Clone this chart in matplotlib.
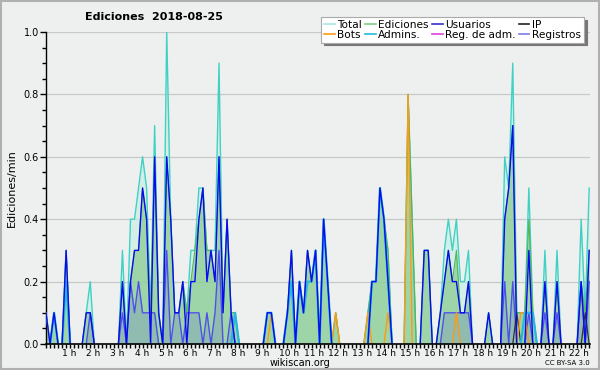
import numpy as np
import matplotlib

matplotlib.use("Agg")
import matplotlib.pyplot as plt
from matplotlib.lines import Line2D

# 10-minute samples starting at 00:20 (edits per minute)
total = [0.1, 0, 0.1, 0, 0, 0.3, 0, 0, 0, 0,
         0.1, 0.2, 0, 0, 0, 0, 0, 0, 0, 0.3,
         0, 0.4, 0.4, 0.5, 0.6, 0.5, 0.1, 0.7, 0.1, 0,
         1.0, 0.4, 0.1, 0.1, 0.2, 0.1, 0.3, 0.3, 0.5, 0.5,
         0.3, 0.3, 0.3, 0.9, 0.1, 0.4, 0.1, 0.1, 0, 0,
         0, 0, 0, 0, 0, 0.1, 0.1, 0, 0, 0,
         0.1, 0.3, 0, 0.2, 0.1, 0.3, 0.2, 0.3, 0, 0.4,
         0.2, 0, 0.1, 0, 0, 0, 0, 0, 0, 0,
         0.1, 0.2, 0.2, 0.5, 0.4, 0.3, 0, 0, 0, 0,
         0.8, 0.4, 0, 0, 0.3, 0.3, 0, 0, 0.1, 0.3,
         0.4, 0.3, 0.4, 0.2, 0.2, 0.3, 0, 0, 0, 0,
         0.1, 0, 0, 0, 0.6, 0.5, 0.9, 0.1, 0.1, 0.1,
         0.5, 0.1, 0, 0, 0.3, 0, 0, 0.3, 0, 0,
         0, 0, 0, 0.4, 0.1, 0.5]
ediciones = [0.1, 0, 0.1, 0, 0, 0.3, 0, 0, 0, 0,
             0.1, 0.1, 0, 0, 0, 0, 0, 0, 0, 0.2,
             0, 0.2, 0.3, 0.3, 0.5, 0.4, 0.1, 0.6, 0.1, 0,
             0.6, 0.4, 0.1, 0.1, 0.2, 0.1, 0.2, 0.3, 0.4, 0.5,
             0.3, 0.3, 0.2, 0.6, 0.1, 0.4, 0.1, 0.1, 0, 0,
             0, 0, 0, 0, 0, 0.1, 0.1, 0, 0, 0,
             0.1, 0.3, 0, 0.2, 0.1, 0.3, 0.2, 0.3, 0, 0.4,
             0.2, 0, 0.1, 0, 0, 0, 0, 0, 0, 0,
             0.1, 0.2, 0.2, 0.5, 0.4, 0.3, 0, 0, 0, 0,
             0.8, 0.4, 0, 0, 0.3, 0.3, 0, 0, 0.1, 0.2,
             0.3, 0.2, 0.3, 0.1, 0.1, 0.2, 0, 0, 0, 0,
             0.1, 0, 0, 0, 0.4, 0.5, 0.7, 0.1, 0.1, 0.1,
             0.4, 0.1, 0, 0, 0.2, 0, 0, 0.2, 0, 0,
             0, 0, 0, 0.2, 0.1, 0.3]
usuarios = [0.1, 0, 0.1, 0, 0, 0.3, 0, 0, 0, 0,
            0.1, 0.1, 0, 0, 0, 0, 0, 0, 0, 0.2,
            0, 0.2, 0.3, 0.3, 0.5, 0.4, 0, 0.6, 0.1, 0,
            0.6, 0.4, 0.1, 0.1, 0.2, 0, 0.2, 0.2, 0.4, 0.5,
            0.2, 0.3, 0.2, 0.6, 0.1, 0.4, 0.1, 0, 0, 0,
            0, 0, 0, 0, 0, 0.1, 0.1, 0, 0, 0,
            0.1, 0.3, 0, 0.2, 0.1, 0.3, 0.2, 0.3, 0, 0.4,
            0.2, 0, 0, 0, 0, 0, 0, 0, 0, 0,
            0, 0.2, 0.2, 0.5, 0.4, 0.2, 0, 0, 0, 0,
            0, 0, 0, 0, 0.3, 0.3, 0, 0, 0.1, 0.2,
            0.3, 0.2, 0.2, 0.1, 0.1, 0.2, 0, 0, 0, 0,
            0.1, 0, 0, 0, 0.4, 0.5, 0.7, 0, 0, 0,
            0.3, 0, 0, 0, 0.2, 0, 0, 0.2, 0, 0,
            0, 0, 0, 0.2, 0, 0.3]
ip = [0] * 117 + [0.1] + [0] * 16 + [0.1, 0]
bots = [0] * 56 + [0.1] + [0] * 15 + [0.1] + [0] * 7 + [0.1] + [0] * 4 + [0.1] + [0] * 4 \
    + [0.8] + [0] * 11 + [0.1] + [0] * 15 + [0.1, 0.1] + [0] * 16
admins = [0, 0, 0.1, 0, 0, 0.2, 0, 0, 0, 0,
          0, 0, 0, 0, 0, 0, 0, 0, 0, 0,
          0, 0, 0, 0, 0, 0, 0, 0, 0, 0,
          0, 0, 0, 0, 0, 0, 0, 0, 0, 0,
          0, 0, 0, 0, 0, 0, 0, 0.1, 0, 0,
          0, 0, 0, 0, 0, 0.1, 0.1, 0, 0, 0,
          0.1, 0.2, 0, 0.2, 0.1, 0.2, 0.2, 0.3, 0, 0.4,
          0.2, 0, 0, 0, 0, 0, 0, 0, 0, 0,
          0, 0.2, 0.2, 0.5, 0.4, 0.2, 0, 0, 0, 0,
          0, 0, 0, 0, 0, 0, 0, 0, 0, 0,
          0, 0, 0, 0, 0, 0, 0, 0, 0, 0,
          0, 0, 0, 0, 0, 0, 0, 0, 0, 0.1,
          0.1, 0.1, 0, 0, 0, 0, 0, 0, 0, 0,
          0, 0, 0, 0, 0, 0]
reg_adm = [0] * 136
registros = [0, 0, 0, 0, 0, 0, 0, 0, 0, 0,
             0, 0.1, 0, 0, 0, 0, 0, 0, 0, 0.1,
             0, 0.2, 0.1, 0.2, 0.1, 0.1, 0.1, 0.1, 0, 0,
             0.3, 0, 0.1, 0.1, 0, 0.1, 0.1, 0.1, 0.1, 0,
             0.1, 0, 0.1, 0.3, 0, 0, 0.1, 0, 0, 0,
             0, 0, 0, 0, 0, 0, 0, 0, 0, 0,
             0, 0, 0, 0, 0, 0, 0, 0, 0, 0,
             0, 0, 0, 0, 0, 0, 0, 0, 0, 0,
             0, 0, 0, 0, 0, 0, 0, 0, 0, 0,
             0, 0, 0, 0, 0, 0, 0, 0, 0, 0.1,
             0.1, 0.1, 0.1, 0.1, 0.1, 0.1, 0, 0, 0, 0,
             0, 0, 0, 0, 0.2, 0, 0.2, 0, 0, 0,
             0.1, 0, 0, 0, 0.1, 0, 0, 0.1, 0, 0,
             0, 0, 0, 0.2, 0, 0.2]
hours = list(range(1, 23))

BG = "#eef0f0"
C_TOTAL = "#3fd2c4"
C_EDIC = "#5cb85c"
C_USU = "#0a0aee"
C_IP = "#333333"
C_BOTS = "#ff9a10"
C_ADM = "#25b8dc"
C_REGADM = "#dd44dd"
C_REG = "#5050e8"

x = np.arange(len(total))


def _trim(vals):
    """Break the line wherever two consecutive samples are both zero."""
    xs, ys = [], []
    for i, v in enumerate(vals):
        if i > 0 and v == 0 and vals[i - 1] == 0:
            xs.append(np.nan)
            ys.append(np.nan)
        xs.append(i)
        ys.append(v)
    return xs, ys


fig = plt.figure(figsize=(6.0, 3.7), dpi=100, facecolor=BG)
ax = fig.add_axes([46 / 600, 1 - 344 / 370, 544 / 600, 312 / 370], facecolor=BG)

ax.fill_between(x, total, color="#c9eee5", alpha=0.7, lw=0, zorder=1)
ax.fill_between(x, ediciones, color=C_EDIC, alpha=0.45, lw=0, zorder=2)
ax.fill_between(x, registros, color="#6060d0", alpha=0.22, lw=0, zorder=3)

ax.plot(*_trim(total), color=C_TOTAL, lw=1.0, zorder=4)
ax.plot(*_trim(ediciones), color="#55b455", lw=0.8, zorder=4)
ax.plot(*_trim(registros), color=C_REG, lw=1.0, zorder=5)
ax.plot(*_trim(ip), color=C_IP, lw=0.9, zorder=5)
ax.plot(*_trim(bots), color=C_BOTS, lw=1.0, zorder=6)
ax.plot(*_trim(admins), color=C_ADM, lw=1.6, zorder=6)
ax.plot(*_trim(usuarios), color=C_USU, lw=1.0, zorder=7)

ax.set_xlim(0, 135.2)
ax.set_ylim(0, 1.0)
for s in ("top", "right"):
    ax.spines[s].set_visible(False)
ax.spines["left"].set_linewidth(1.0)
ax.spines["bottom"].set_linewidth(1.2)
ax.spines["bottom"].set_zorder(10)

ax.set_yticks(np.arange(0, 1.01, 0.2))
ax.set_yticklabels([f"{v:.1f}" for v in np.arange(0, 1.01, 0.2)])
ax.set_yticks(np.arange(0, 1.01, 0.05), minor=True)
ax.yaxis.grid(True, color="#c8c8c8", lw=0.9)
ax.set_axisbelow(True)

ax.set_xticks([6 * h - 2 for h in hours])
ax.set_xticklabels([f"{h} h" for h in hours])
ax.set_xticks(x, minor=True)
for lab in ax.get_xticklabels():
    lab.set_horizontalalignment("left")
ax.tick_params(axis="y", which="major", length=4, width=1, labelsize=7, pad=1)
ax.tick_params(axis="x", which="major", length=3, width=1, labelsize=6.5, pad=0.5)
ax.tick_params(axis="both", which="minor", length=3, width=1)

ax.set_ylabel("Ediciones/min", fontsize=8, labelpad=5)
fig.text(0.5, 1 - 363 / 370, "wikiscan.org", ha="center", va="center", fontsize=7)
fig.text(590 / 600, 1 - 363 / 370, "CC BY-SA 3.0", ha="right", va="center", fontsize=5)
fig.text(85 / 600, 1 - 17 / 370, "Ediciones  2018-08-25", ha="left", va="center",
         fontsize=8, fontweight="bold")

# legend: column-major order for ncol=4
handles = [
    Line2D([], [], color="#a8e6e0", lw=1.2), Line2D([], [], color=C_BOTS, lw=1.2),
    Line2D([], [], color="#7fcf7f", lw=1.2), Line2D([], [], color=C_ADM, lw=1.2),
    Line2D([], [], color="#3333cc", lw=1.2), Line2D([], [], color=C_REGADM, lw=1.2),
    Line2D([], [], color="#222222", lw=1.2), Line2D([], [], color="#7b7bef", lw=1.2),
]
labels = ["Total", "Bots", "Ediciones", "Admins.", "Usuarios", "Reg. de adm.", "IP", "Registros"]
leg = fig.legend(handles, labels, ncol=4, loc="upper right",
                 bbox_to_anchor=(589 / 600, 1 - 12 / 370), fontsize=7.6,
                 frameon=True, fancybox=False, shadow={"color": "#777777", "alpha": 1},
                 framealpha=1, edgecolor="#aaaaaa", handlelength=1.0,
                 handletextpad=0.25, columnspacing=0.3, labelspacing=0.0,
                 borderpad=0.25)
leg.get_frame().set_linewidth(0.8)

# outer border
fig.patches.append(plt.Rectangle((0.002, 0.003), 0.996, 0.994, transform=fig.transFigure,
                                 fill=False, edgecolor="#b0b0b0", lw=1.5))

fig.savefig("out.png", dpi=100, facecolor=BG)
